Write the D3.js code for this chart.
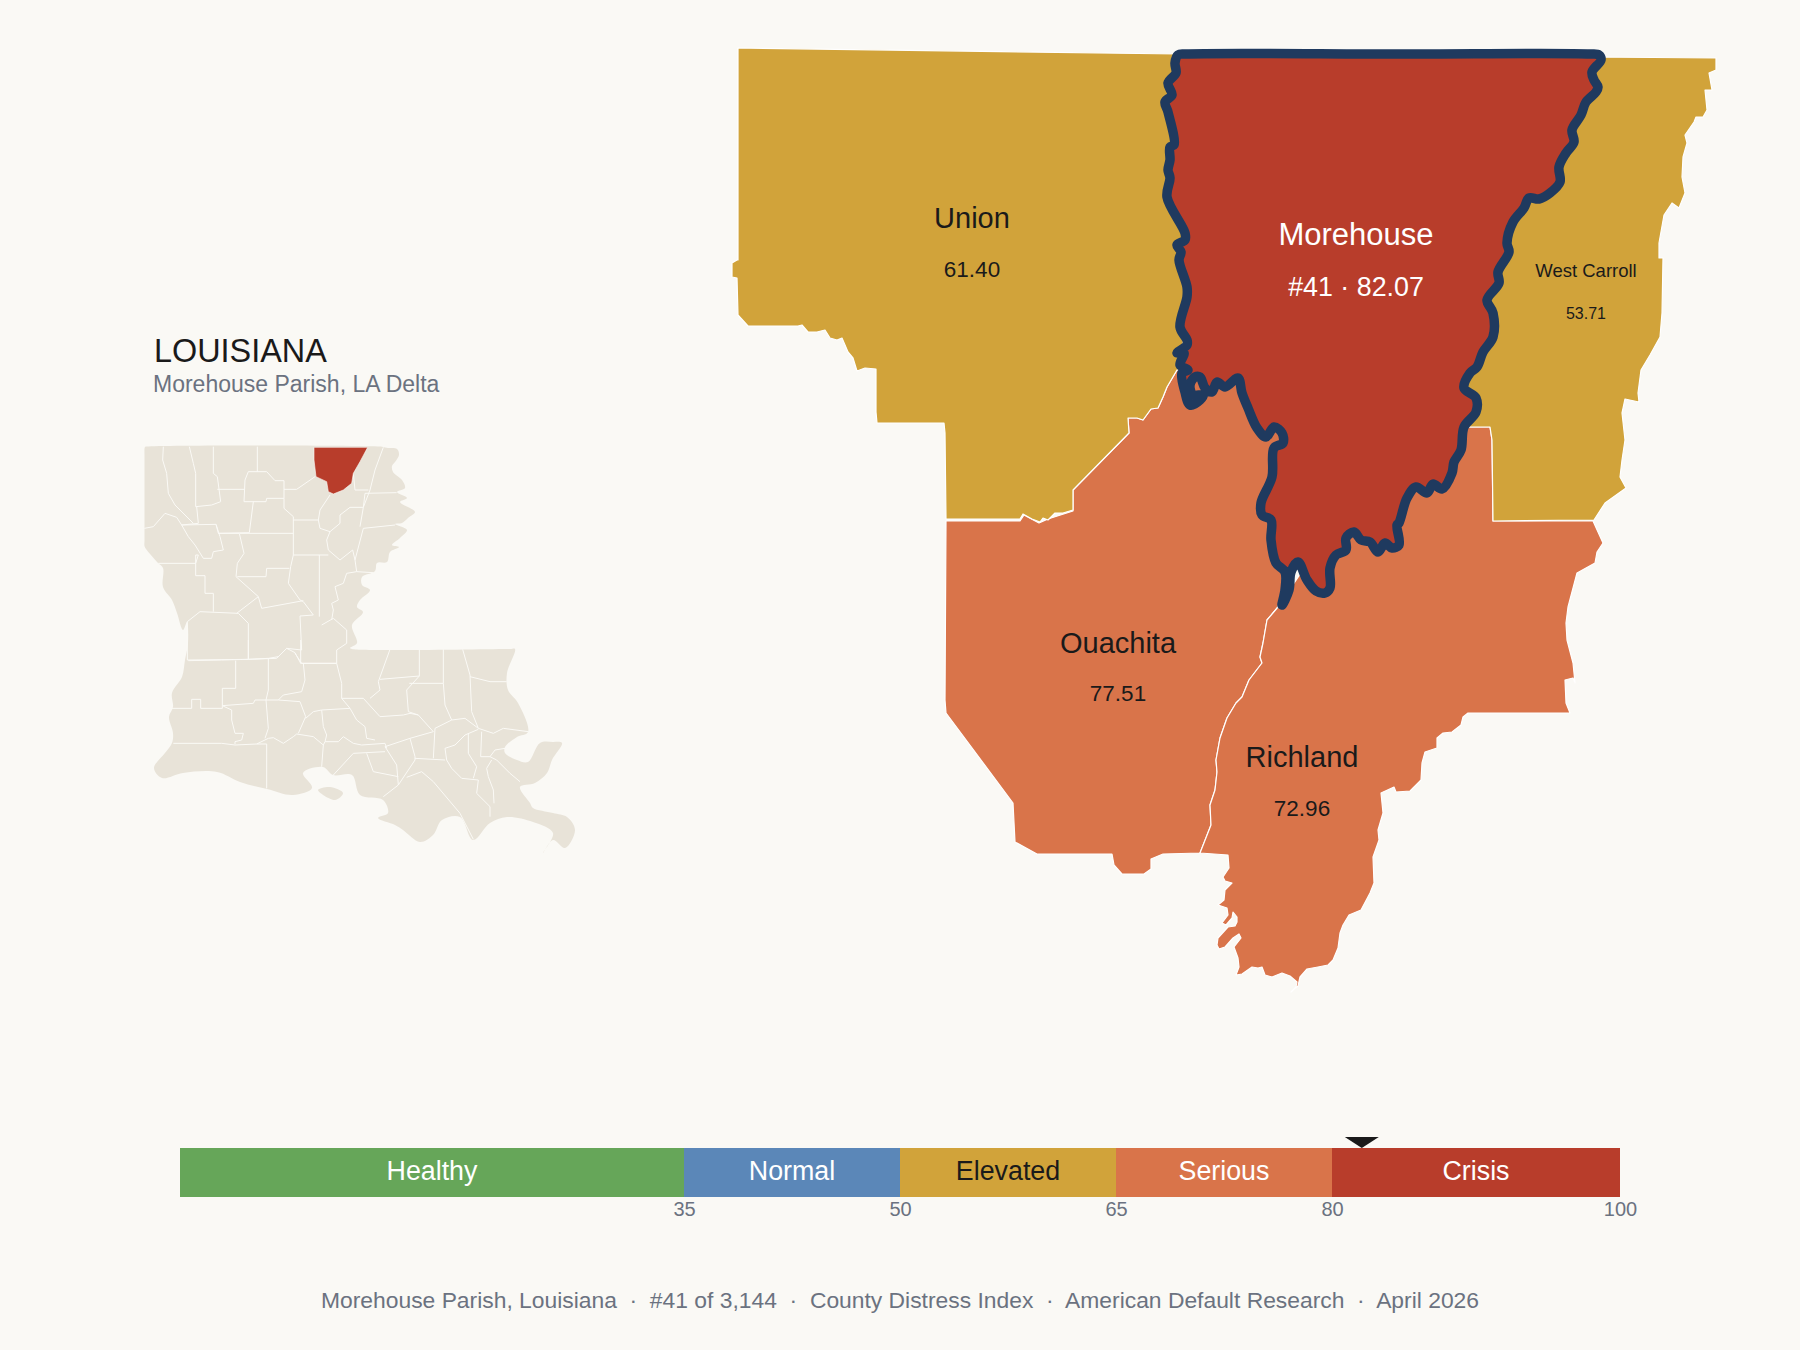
<!DOCTYPE html>
<html>
<head>
<meta charset="utf-8">
<script src="https://cdn.jsdelivr.net/npm/d3@7"></script>
<style>
  html, body { margin: 0; background: #faf9f5; }
  svg { display: block; font-family: "Liberation Sans", Arial, sans-serif; }
</style>
</head>
<body>
<svg id="chart" width="1800" height="1350"></svg>
<script>
// parish scores
const focusName = 'Morehouse';
const focusRank = 41;
const focusScore = 82.07;
const neighbourNames = ['Union', 'West Carroll', 'Ouachita', 'Richland'];
const neighbourScores = [61.40, 53.71, 77.51, 72.96];

// distress bands
const bandNames = ['Healthy', 'Normal', 'Elevated', 'Serious', 'Crisis'];
const bandStops = [0, 35, 50, 65, 80, 100];
const bandTicks = [35, 50, 65, 80, 100];

// outlines, in map grid units
const unionOutline = [[738,48],[1178,54],[1200,200],[1180,370],[1177,370],[1167,387],[1163,397],[1158,408],[1151,409],[1143,420],[1137,418],[1128,418],[1129,433],[1073,490],[1073,510],[1063,513],[1055,513],[1048,520],[1043,518],[1040,522],[1032,519],[1023,514],[1020,519],[946,519],[945,433],[944,423],[877,423],[876,412],[876,369],[865,368],[857,371],[853,358],[848,352],[842,338],[837,340],[830,338],[825,330],[817,332],[808,332],[802,325],[798,326],[748,326],[738,315],[737,278],[732,277],[732,263],[737,260],[738,260]];
const westCarrollOutline = [[1590,57],[1716,58],[1716,70],[1709,73],[1712,90],[1705,90],[1707,110],[1703,117],[1696,117],[1694,122],[1685,135],[1687,143],[1683,157],[1682,177],[1685,193],[1679,208],[1672,203],[1664,215],[1659,243],[1659,258],[1663,258],[1662,313],[1660,337],[1650,355],[1641,370],[1638,393],[1639,402],[1625,399],[1622,413],[1625,440],[1622,460],[1620,477],[1626,488],[1605,503],[1594,520],[1493,521],[1492,440],[1490,427],[1440,427],[1420,300],[1500,120]];
const ouachitaOutline = [[946,521],[1020,521],[1024,515],[1039,523],[1048,519],[1073,511],[1073,490],[1129,433],[1128,418],[1137,418],[1143,420],[1151,409],[1158,408],[1163,397],[1167,387],[1177,370],[1230,365],[1300,420],[1300,500],[1278,607],[1267,620],[1263,643],[1260,657],[1262,663],[1249,680],[1242,697],[1236,703],[1227,718],[1220,738],[1216,760],[1217,772],[1215,790],[1210,805],[1211,825],[1200,853],[1163,854],[1151,859],[1151,869],[1144,874],[1122,874],[1114,865],[1112,854],[1037,854],[1015,842],[1013,803],[946,713],[945,700]];
const richlandOutline = [[1278,607],[1267,620],[1263,643],[1260,657],[1262,663],[1249,680],[1242,697],[1236,703],[1227,718],[1220,738],[1216,760],[1217,772],[1215,790],[1210,805],[1211,825],[1200,853],[1228,855],[1229,868],[1223,877],[1225,881],[1232,883],[1225,890],[1224,900],[1218,905],[1227,908],[1228,915],[1222,923],[1226,925],[1232,918],[1233,912],[1237,917],[1237,922],[1235,926],[1228,927],[1218,938],[1217,945],[1219,949],[1225,947],[1233,938],[1239,934],[1241,938],[1234,947],[1238,958],[1239,967],[1236,975],[1242,974],[1252,967],[1258,968],[1262,967],[1265,975],[1272,977],[1282,973],[1290,976],[1297,982],[1296,987],[1291,992],[1298,986],[1300,977],[1307,969],[1318,967],[1328,965],[1333,960],[1338,948],[1340,933],[1343,925],[1349,915],[1361,910],[1370,893],[1374,883],[1373,857],[1379,840],[1378,830],[1383,813],[1381,793],[1394,787],[1396,792],[1410,791],[1421,780],[1422,763],[1425,752],[1437,748],[1437,738],[1443,733],[1452,732],[1461,725],[1463,717],[1468,713],[1570,713],[1566,703],[1565,680],[1573,678],[1575,683],[1573,663],[1567,640],[1566,623],[1568,607],[1577,573],[1586,568],[1595,563],[1597,552],[1603,543],[1593,521],[1493,521],[1492,440],[1490,427],[1440,427],[1350,500]];
const morehouseOutline = [[1178,55],[1186,54],[1400,54],[1590,54],[1599,55],[1601,60],[1592,72],[1594,80],[1598,87],[1596,92],[1586,102],[1581,115],[1572,130],[1574,142],[1566,153],[1559,167],[1560,182],[1550,193],[1539,199],[1529,198],[1524,208],[1513,222],[1507,243],[1509,252],[1498,272],[1499,283],[1487,300],[1493,313],[1493,337],[1483,352],[1477,367],[1470,373],[1464,388],[1476,398],[1476,412],[1464,427],[1461,450],[1454,462],[1452,473],[1442,489],[1433,484],[1427,493],[1416,487],[1407,498],[1399,523],[1397,525],[1399,545],[1392,548],[1385,543],[1378,552],[1370,542],[1361,540],[1354,532],[1346,538],[1346,550],[1336,555],[1330,568],[1330,588],[1325,593],[1316,591],[1307,580],[1298,562],[1291,572],[1289,590],[1282,605],[1285,590],[1285,572],[1276,563],[1271,540],[1271,520],[1262,515],[1261,503],[1272,477],[1274,448],[1283,443],[1282,433],[1274,427],[1266,437],[1257,428],[1248,408],[1242,393],[1238,378],[1225,387],[1217,382],[1212,392],[1205,388],[1200,377],[1195,377],[1190,385],[1193,395],[1203,395],[1200,400],[1190,405],[1185,392],[1182,373],[1188,370],[1180,365],[1184,353],[1177,353],[1187,345],[1187,340],[1180,327],[1187,297],[1187,287],[1179,260],[1181,252],[1177,245],[1185,240],[1185,233],[1167,197],[1170,178],[1168,170],[1170,160],[1170,147],[1174,145],[1168,112],[1165,102],[1172,95],[1168,83],[1176,73],[1175,63]];

// state map, same kind of units as the main map
const stateOutline = [[144.5,449],[145,447],[147,446.5],[380,446.5],[383,447],[388,448],[397,449],[399,455],[395,462],[392,466],[393,472],[402,480],[405,488],[397,492],[407,498],[400,502],[415,512],[408,518],[402,523],[395,524],[407,530],[400,538],[392,545],[399,547],[390,552],[387,562],[377,563],[375,571],[362,577],[362,585],[370,590],[360,600],[357,607],[363,612],[352,625],[357,643],[350,648],[352,649],[510,649],[515,649],[507,673],[508,690],[518,703],[528,732],[517,737],[505,747],[505,753],[517,760],[528,762],[540,743],[553,742],[562,743],[552,760],[547,773],[535,783],[520,787],[530,803],[533,808],[553,813],[567,817],[575,830],[565,848],[553,840],[543,853],[553,833],[533,822],[507,817],[490,823],[473,840],[460,817],[442,820],[433,835],[420,842],[403,830],[395,825],[378,818],[388,813],[383,800],[360,795],[352,775],[333,775],[323,767],[303,773],[312,788],[293,795],[267,789],[240,782],[217,772],[183,773],[162,778],[154,768],[165,753],[172,743],[173,733],[169,717],[173,707],[172,693],[182,677],[185,660],[188,643],[187,622],[183,630],[177,613],[172,600],[163,587],[163,568],[158,563],[146,549],[144.5,546],[144.5,540],[144.5,455]];
const marshIsland = [[318,790],[330,787],[343,793],[335,800]];
const focusOnState = [[552,52],[713,52],[690,95],[670,130],[665,160],[640,180],[610,192],[595,185],[590,155],[558,140],[552,90]];
const northParishLines = [
  [[100,50],[98,90],[110,130],[115,190],[135,225],[190,280]],
  [[178,50],[190,100],[197,130],[197,230],[245,225],[272,215],[262,140],[250,130],[250,50]],
  [[382,50],[382,125]],
  [[262,178],[342,178]],
  [[345,150],[355,125],[410,125],[435,152],[462,152],[462,205],[410,205],[408,215],[342,215],[345,150]],
  [[462,178],[500,178],[555,140]],
  [[462,205],[462,235],[490,260],[490,375],[482,410],[475,460],[510,510],[520,515],[550,555]],
  [[200,230],[205,280],[155,285],[258,283],[265,310],[358,308],[370,215]],
  [[43,295],[70,290],[105,250],[140,262],[155,285],[175,320],[195,345],[220,385],[245,385],[250,365],[280,360],[270,320],[258,283]],
  [[265,310],[328,310],[342,370],[322,400],[318,440],[385,500],[320,550]],
  [[330,310],[490,310]],
  [[85,400],[197,400],[205,375],[197,375],[197,437],[225,437],[225,490],[250,490],[250,545]],
  [[322,440],[408,440],[410,415],[478,415]],
  [[385,500],[395,535],[520,512]],
  [[490,270],[565,270]],
  [[490,375],[595,375]],
  [[600,195],[570,240],[565,270],[570,295],[600,305],[630,280],[630,255],[660,232],[700,232],[705,190],[800,188]],
  [[715,180],[675,180],[670,130]],
  [[760,52],[735,120],[720,180],[700,232],[690,290]],
  [[600,305],[590,330],[595,360],[630,390],[668,360],[675,390],[700,295],[795,285]],
  [[675,390],[680,425],[730,428]],
  [[568,375],[568,560]],
  [[680,425],[650,430],[640,460],[615,470],[625,510],[605,520],[610,540],[605,570]],
  [[550,555],[510,558],[515,660],[470,655],[440,685],[355,688],[355,580],[325,550],[210,545],[172,575],[172,690],[355,688]],
  [[575,585],[610,565],[650,600],[650,640],[620,660],[620,700],[515,700],[495,670]]
];
const southParishLines = [
  [[145,62],[245,60],[325,58],[325,0]],
  [[325,58],[385,55],[415,50],[440,25],[465,38],[482,70],[590,70]],
  [[482,0],[482,70]],
  [[287,62],[287,145],[247,145],[247,197],[275,210],[275,240],[285,280],[310,280],[305,300],[285,305],[285,312]],
  [[247,197],[247,205],[182,205],[182,178],[155,178],[155,205],[90,205]],
  [[100,310],[245,310],[285,315],[350,312],[380,312],[380,445]],
  [[350,312],[385,295],[400,293],[430,310],[460,290],[470,282],[520,290],[550,315]],
  [[385,55],[385,150],[378,180],[385,265],[375,295]],
  [[490,70],[495,120],[485,155],[430,165],[415,180],[378,180]],
  [[415,180],[480,185],[497,230],[475,280]],
  [[247,197],[340,190],[345,180],[378,180]],
  [[590,70],[605,130],[605,175],[630,205],[545,210],[550,260],[560,285],[555,305],[550,315],[545,380]],
  [[497,235],[520,215],[545,210]],
  [[555,305],[595,305],[610,290],[640,310],[665,315],[735,310],[740,325]],
  [[605,175],[670,175],[720,230],[790,225],[810,220],[835,225],[880,275]],
  [[630,205],[650,240],[675,260],[680,295],[705,300]],
  [[750,28],[715,125],[720,150],[690,175]],
  [[838,28],[838,108],[720,118]],
  [[838,108],[800,150],[805,215],[835,225]],
  [[910,28],[910,130],[808,130]],
  [[910,130],[915,195],[935,240],[885,265],[880,355]],
  [[968,28],[990,105],[995,215],[1015,265]],
  [[990,110],[1050,125],[1100,125]],
  [[935,240],[975,235],[1015,265],[1060,280],[1090,265],[1165,275]],
  [[1015,268],[975,285],[945,315],[915,325],[920,360],[935,385],[965,415],[1015,420],[1010,460],[1050,500],[1050,530]],
  [[985,280],[985,340],[1010,380],[1000,415]],
  [[1025,275],[1022,350],[1050,350],[1065,330],[1095,325]],
  [[1050,350],[1070,360],[1110,400],[1140,425]],
  [[1055,360],[1040,385],[1045,410],[1060,450],[1062,490]],
  [[880,275],[810,295],[735,320],[770,375],[775,435],[730,470]],
  [[735,335],[640,340],[580,405]],
  [[680,340],[700,395],[775,410]],
  [[810,295],[825,350],[825,360],[775,435]],
  [[825,355],[915,360]],
  [[845,395],[800,412]],
  [[845,395],[880,425],[960,520],[1000,598]]
];

// text
const titleText = 'LOUISIANA';
const subtitleText = 'Morehouse Parish, LA Delta';
const footerParts = ['Morehouse Parish, Louisiana', '#41 of 3,144', 'County Distress Index', 'American Default Research', 'April 2026'];

// colours
const bandColors = ['#66a659', '#5b87b8', '#d1a33a', '#d9744a', '#b83d2b'];
const bandTextColors = ['#fff', '#fff', '#1a1a1a', '#fff', '#fff'];
const muted = '#6b7280';
const ink = '#1a1a1a';

const svg = d3.select('#chart');

// maps
const mapX = d3.scaleLinear().domain([700, 1740]).range([700, 1740]);
const mapY = d3.scaleLinear().domain([40, 1000]).range([40, 1000]);
const mapLine = d3.line().x(d => mapX(d[0])).y(d => mapY(d[1]));

const bandColor = d3.scaleThreshold().domain(bandStops.slice(1, -1)).range(bandColors);

const neighbourOutlines = [unionOutline, westCarrollOutline, ouachitaOutline, richlandOutline];
const drawOrder = [2, 3, 0, 1];

svg.append('g').selectAll('path')
  .data(drawOrder)
  .join('path')
  .attr('d', i => mapLine(neighbourOutlines[i]) + 'Z')
  .attr('fill', i => bandColor(neighbourScores[i]))
  .attr('stroke', '#fff')
  .attr('stroke-width', 1.2)
  .attr('stroke-linejoin', 'round');

const smoothLine = d3.line()
  .x(d => mapX(d[0]))
  .y(d => mapY(d[1]))
  .curve(d3.curveCatmullRomClosed.alpha(0.5));

svg.append('path')
  .attr('d', smoothLine(morehouseOutline))
  .attr('fill', bandColor(focusScore))
  .attr('stroke', '#1f3a5f')
  .attr('stroke-width', 9.5)
  .attr('stroke-linejoin', 'round');

// parish labels
const labelX = [972, 1586, 1118, 1302];
const nameY = [218, 270, 643, 757];
const scoreY = [269, 313, 693, 808];
const nameSize = [29, 18.5, 29, 29];
const scoreSize = [22.5, 16, 22.5, 22.5];

neighbourNames.forEach((name, i) => {
  svg.append('text')
    .attr('x', labelX[i]).attr('y', nameY[i])
    .attr('text-anchor', 'middle').attr('dominant-baseline', 'central')
    .attr('font-size', nameSize[i]).attr('fill', ink)
    .text(name);
  svg.append('text')
    .attr('x', labelX[i]).attr('y', scoreY[i])
    .attr('text-anchor', 'middle').attr('dominant-baseline', 'central')
    .attr('font-size', scoreSize[i]).attr('fill', ink)
    .text(neighbourScores[i].toFixed(2));
});

svg.append('text')
  .attr('x', 1356).attr('y', 234)
  .attr('text-anchor', 'middle').attr('dominant-baseline', 'central')
  .attr('font-size', 31).attr('fill', '#fff')
  .text(focusName);
svg.append('text')
  .attr('x', 1356).attr('y', 287)
  .attr('text-anchor', 'middle').attr('dominant-baseline', 'central')
  .attr('font-size', 26.8).attr('fill', '#fff')
  .text(`#${focusRank} · ${focusScore.toFixed(2)}`);

// state locator
const stateX = d3.scaleLinear().domain([130, 600]).range([130, 600]);
const stateY = d3.scaleLinear().domain([430, 860]).range([430, 860]);
const stateLine = d3.line().x(d => stateX(d[0])).y(d => stateY(d[1])).curve(d3.curveCatmullRomClosed.alpha(0.5));

// zoomed tracing grids for the parish lines
const northX = d3.scaleLinear().domain([0, 900]).range([130, 430]);
const northY = d3.scaleLinear().domain([0, 720]).range([430, 670]);
const southX = d3.scaleLinear().domain([0, 1380]).range([140, 600]);
const southY = d3.scaleLinear().domain([0, 660]).range([640, 860]);
const northLine = d3.line().x(d => northX(d[0])).y(d => northY(d[1]));
const southLine = d3.line().x(d => southX(d[0])).y(d => southY(d[1]));

const stateG = svg.append('g');
stateG.selectAll('path.land')
  .data([stateOutline, marshIsland])
  .join('path')
  .attr('class', 'land')
  .attr('d', stateLine)
  .attr('fill', '#e8e3d8');

const borderG = stateG.append('g')
  .attr('fill', 'none')
  .attr('stroke', '#fbfaf6')
  .attr('stroke-width', 1);
borderG.selectAll('path.n').data(northParishLines).join('path').attr('class', 'n').attr('d', northLine);
borderG.selectAll('path.s').data(southParishLines).join('path').attr('class', 's').attr('d', southLine);

stateG.append('path')
  .attr('d', northLine(focusOnState) + 'Z')
  .attr('fill', bandColor(focusScore))
  .attr('stroke', '#fbfaf6')
  .attr('stroke-width', 0.6);

svg.append('text')
  .attr('x', 154).attr('y', 362)
  .attr('font-size', 32.4).attr('fill', ink)
  .text(titleText);
svg.append('text')
  .attr('x', 153).attr('y', 392)
  .attr('font-size', 23).attr('fill', muted)
  .text(subtitleText);

// distress scale
const barX = d3.scaleLinear().domain([0, 100]).range([180, 1620]);
const barTop = 1148;
const barHeight = 49;

svg.append('g').selectAll('rect')
  .data(bandNames)
  .join('rect')
  .attr('x', (d, i) => barX(bandStops[i]))
  .attr('y', barTop)
  .attr('width', (d, i) => barX(bandStops[i + 1]) - barX(bandStops[i]))
  .attr('height', barHeight)
  .attr('fill', (d, i) => bandColors[i]);

svg.append('g').selectAll('text')
  .data(bandNames)
  .join('text')
  .attr('x', (d, i) => barX((bandStops[i] + bandStops[i + 1]) / 2))
  .attr('y', barTop + barHeight / 2 - 1.5)
  .attr('text-anchor', 'middle')
  .attr('dominant-baseline', 'central')
  .attr('font-size', 26.8)
  .attr('fill', (d, i) => bandTextColors[i])
  .text(d => d);

const axis = svg.append('g')
  .attr('transform', `translate(0,${barTop + barHeight})`)
  .call(d3.axisBottom(barX).tickValues(bandTicks).tickSize(0).tickPadding(5).tickFormat(d3.format('d')));
axis.select('.domain').remove();
axis.selectAll('text')
  .attr('font-family', '"Liberation Sans", Arial, sans-serif')
  .attr('font-size', 20)
  .attr('fill', muted);

// marker at the parish score
const markerX = barX(focusScore);
svg.append('path')
  .attr('d', d3.line()([[markerX - 17, barTop - 11], [markerX + 17, barTop - 11], [markerX, barTop]]) + 'Z')
  .attr('fill', ink);

// footer
svg.append('text')
  .attr('x', 900).attr('y', 1299.5)
  .attr('text-anchor', 'middle')
  .attr('dominant-baseline', 'central')
  .attr('font-size', 22.85)
  .attr('fill', muted)
  .attr('xml:space', 'preserve')
  .text(footerParts.join('  ·  '));
</script>
</body>
</html>
